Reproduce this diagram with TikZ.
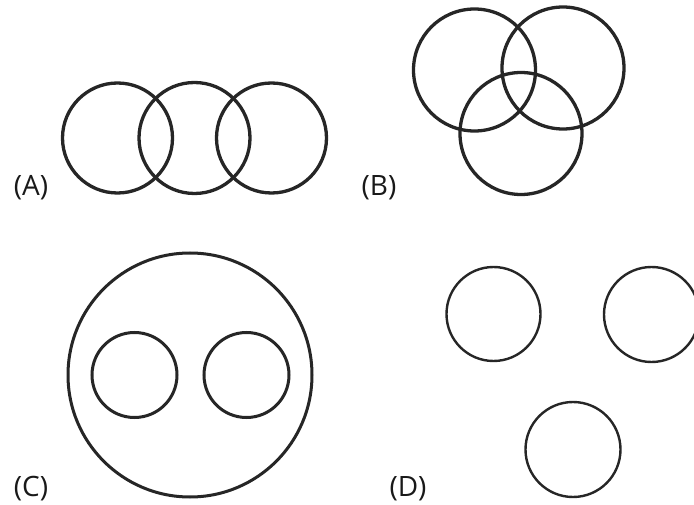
\documentclass[tikz,border=0pt]{standalone}
\usepackage{fontspec}
\setmainfont{Open Sans}
\usetikzlibrary{positioning}

\begin{document}
\begin{tikzpicture}[
    x=1pt, y=-1pt,
    ring/.style={draw=black!85, line width=3.3pt},
    thinring/.style={draw=black!85, line width=2.4pt},
    tag/.style={font=\fontsize{28}{30}\selectfont, text=black!90, inner sep=0pt}
]
    \useasboundingbox (0,0) rectangle (694,505);

    % (A) chain of three circles
    \draw[ring] (117.5,138) circle[radius=55pt];
    \draw[ring] (194.5,138) circle[radius=55.5pt];
    \draw[ring] (271.5,138) circle[radius=55pt];
    \node[tag] (labA) at (31,188) {(A)};

    % (B) three mutually overlapping circles
    \draw[ring] (474.5,70) circle[radius=61pt];
    \draw[ring] (563,68) circle[radius=61pt];
    \draw[ring] (521,133.5) circle[radius=61pt];
    \node[tag] (labB) at (379,188) {(B)};

    % (C) two circles inside a large one
    \draw[ring, line width=3pt] (190,375) circle[radius=122pt];
    \draw[ring, line width=3pt] (134.5,375) circle[radius=42.5pt];
    \draw[ring, line width=3pt] (246.5,375) circle[radius=42.5pt];
    \node[tag] (labC) at (31,489) {(C)};

    % (D) three separate circles
    \draw[thinring] (493.5,314) circle[radius=47pt];
    \draw[thinring] (651.5,314.5) circle[radius=47.5pt];
    \draw[thinring] (573,449.5) circle[radius=47.5pt];
    \node[tag] (labD) at (408,489) {(D)};
\end{tikzpicture}
\end{document}
